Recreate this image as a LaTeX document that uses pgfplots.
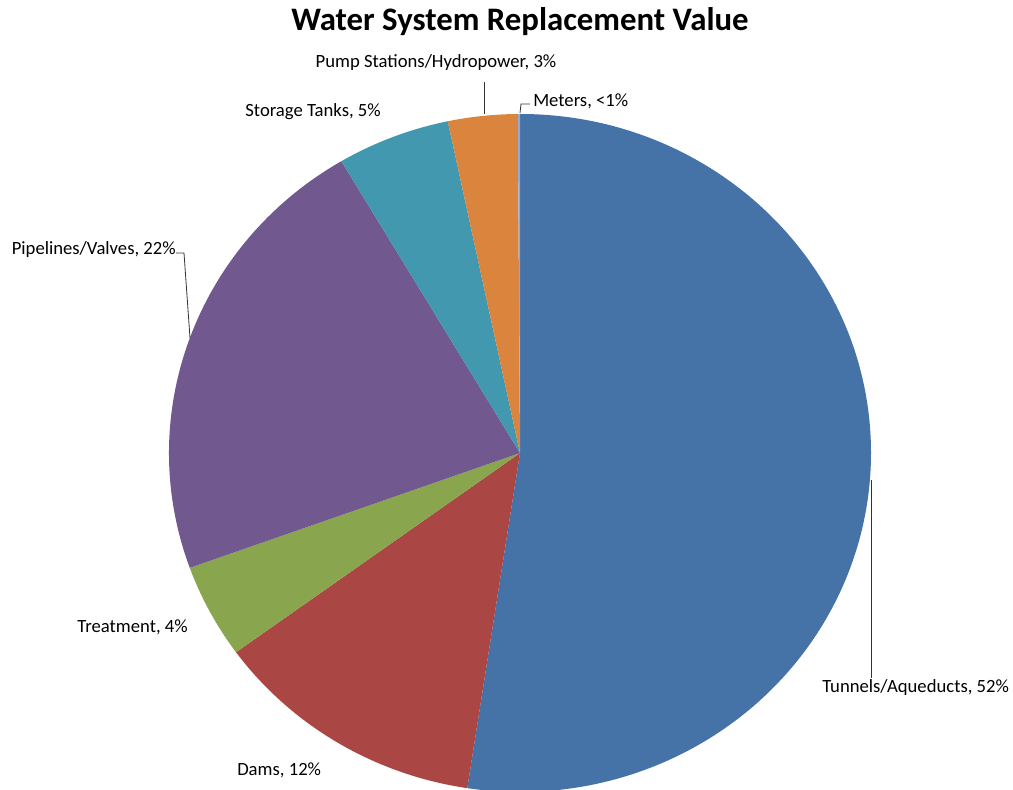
\documentclass[border=0pt]{standalone}
\usepackage{pgfplots}
\pgfplotsset{compat=1.18}
\usepackage{fontspec}
\setmainfont{Carlito}

\definecolor{pieblue}{HTML}{4572A7}
\definecolor{piered}{HTML}{AA4643}
\definecolor{piegreen}{HTML}{89A54E}
\definecolor{piepurple}{HTML}{71588F}
\definecolor{pieteal}{HTML}{4198AF}
\definecolor{pieorange}{HTML}{DB843D}
\definecolor{pielight}{HTML}{93A9CF}

% pie centre (axis units = pixels) and radii
\def\cx{520}
\def\cy{336}
\def\rx{263.25pt}
\def\ry{254.25pt}

% \slice{percent before}{percent}{colour}, clockwise from 12 o'clock
\newcommand{\slice}[3]{%
  \fill[#3] (axis cs:\cx,\cy) -- ++({cos(90-3.6*#1)*\rx},{sin(90-3.6*#1)*\ry})
    arc[start angle={90-3.6*#1}, end angle={90-3.6*(#1+#2)}, x radius=\rx, y radius=\ry]
    -- cycle;}

\begin{document}
\begin{tikzpicture}
\begin{axis}[
    x=0.75pt, y=0.75pt,
    xmin=0, xmax=1013, ymin=0, ymax=789,
    hide axis,
    clip=true,
]
\path (axis cs:0,0) rectangle (axis cs:1013,789);

% percentages of total replacement value
\slice{0}{52.4}{pieblue}       % Tunnels/Aqueducts
\slice{52.4}{12.6}{piered}     % Dams
\slice{65.0}{4.5}{piegreen}    % Treatment
\slice{69.5}{22.0}{piepurple}  % Pipelines/Valves
\slice{91.5}{5.2}{pieteal}     % Storage Tanks
\slice{96.7}{3.2}{pieorange}   % Pump Stations/Hydropower
\slice{99.9}{0.1}{pielight}    % Meters

% leader lines
\draw[black!80, line width=0.6pt] (axis cs:484,707) -- (axis cs:484,675);
\draw[black!80, line width=0.6pt] (axis cs:520,676) -- (axis cs:521,685) -- (axis cs:530,685);
\draw[black!80, line width=0.6pt] (axis cs:176,536) -- (axis cs:184,536) -- (axis cs:190,451);
\draw[black!80, line width=0.6pt] (axis cs:871,309) -- (axis cs:871,111);

% title and labels
\node[font=\fontsize{24.6}{28}\selectfont\bfseries] at (axis cs:520,767) {Water System Replacement Value};
\begin{scope}[every node/.style={font=\fontsize{14}{16}\selectfont, inner sep=0pt}]
\node[anchor=center] at (axis cs:436,726) {Pump Stations/Hydropower, 3\%};
\node[anchor=west] at (axis cs:533,688) {Meters, <1\%};
\node[anchor=east] at (axis cs:381,677) {Storage Tanks, 5\%};
\node[anchor=east] at (axis cs:176,539) {Pipelines/Valves, 22\%};
\node[anchor=east] at (axis cs:188,162) {Treatment, 4\%};
\node[anchor=west] at (axis cs:237,19) {Dams, 12\%};
\node[anchor=west] at (axis cs:822,101) {Tunnels/Aqueducts, 52\%};
\end{scope}
\end{axis}
\end{tikzpicture}
\end{document}
